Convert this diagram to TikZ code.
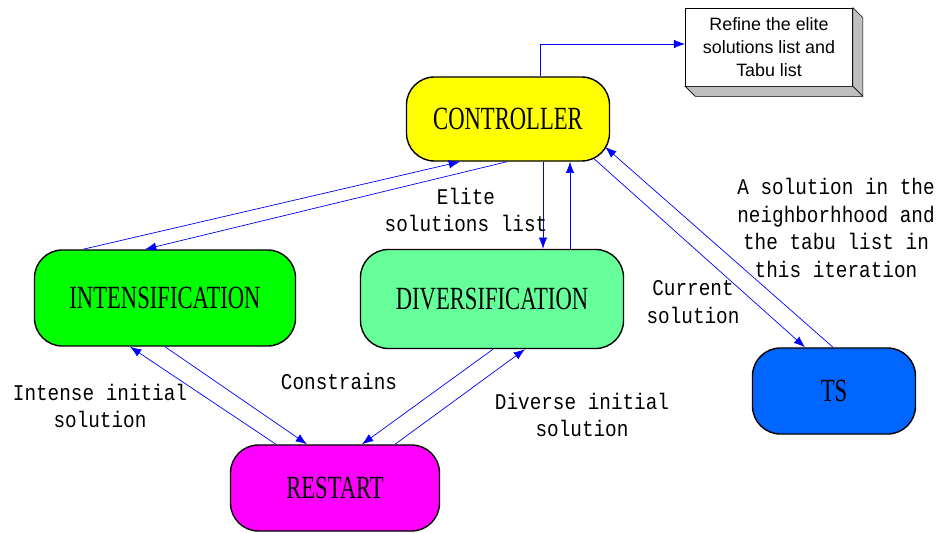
\documentclass[tikz,border=0pt]{standalone}
\usepackage{fontspec}
\setmainfont{Liberation Serif}
\newfontfamily\boxfont[FakeStretch=0.7]{Liberation Serif}
\newfontfamily\labfont[FakeStretch=0.86]{Liberation Mono}
\newfontfamily\notefont{Liberation Sans}
\definecolor{ctrlyellow}{RGB}{255,255,0}
\definecolor{intgreen}{RGB}{0,255,0}
\definecolor{divgreen}{RGB}{102,255,153}
\definecolor{rsmagenta}{RGB}{255,0,255}
\definecolor{tsblue}{RGB}{0,102,255}
\definecolor{flowblue}{RGB}{0,0,255}
\usetikzlibrary{arrows.meta,positioning,calc}

\begin{document}
\begin{tikzpicture}[x=0.025cm,y=-0.025cm,
  phase/.style={draw,line width=1pt,rounded corners=0.7cm,align=center,
    font=\boxfont\fontsize{23}{26}\selectfont,inner sep=0pt},
  flow/.style={draw=flowblue,line width=0.5pt,-{Latex[length=8pt,width=6pt]}},
  flowlabel/.style={align=center,font=\labfont\fontsize{16}{19.8}\selectfont,inner sep=0pt}
]
  \useasboundingbox (0,0) rectangle (939,532);

  \node[phase,fill=ctrlyellow,minimum width=5.075cm,minimum height=2.1cm] (ctrl) at (508,119) {CONTROLLER};
  \node[phase,fill=intgreen,minimum width=6.525cm,minimum height=2.4cm] (intens) at (165,298) {INTENSIFICATION};
  \node[phase,fill=divgreen,minimum width=6.575cm,minimum height=2.475cm] (divers) at (492,299) {DIVERSIFICATION};
  \node[phase,fill=rsmagenta,minimum width=5.225cm,minimum height=2.15cm] (restart) at (335,488) {RESTART};
  \node[phase,fill=tsblue,minimum width=4.075cm,minimum height=2.15cm] (ts) at (834,391) {TS};

  \node[draw,fill=white,line width=0.5pt,minimum width=4.175cm,minimum height=1.95cm,align=center,
    font=\notefont\fontsize{12.7}{16.3}\selectfont] (refine) at (769,47)
    {Refine the elite\\solutions list and\\Tabu list};
  \filldraw[fill=gray!50,line width=0.5pt] (refine.north east) -- ++(10,10) -- ($(refine.south east)+(10,10)$)
    -- ($(refine.south west)+(10,10)$) -- (refine.south west) -- (refine.south east) -- cycle;
  \draw[line width=0.5pt] (refine.south east) -- ++(10,10);

  \draw[flow] ($(ctrl.north)+(32,0)$) |- ($(refine.west)+(0,-3)$);
  \draw[flow] ($(intens.north)+(-82,0)$) -- ($(ctrl.south)+(-48,0)$);
  \draw[flow] ($(ctrl.south)+(-1,0)$) -- ($(intens.north)+(-20,0)$);
  \draw[flow] ($(ctrl.south)+(35,0)$) -- ($(divers.north)+(51,0)$);
  \draw[flow] ($(divers.north)+(78,0)$) -- ($(ctrl.south)+(62,0)$);
  \draw[flow] ($(ctrl.south)+(86,-3)$) -- ($(ts.north)+(-29,0)$);
  \draw[flow] ($(ts.north)+(-1,0)$) -- ($(ctrl.east)+(-5,28)$);
  \draw[flow] (intens.south) -- ($(restart.north)+(-28,0)$);
  \draw[flow] ($(restart.north)+(-59,0)$) -- ($(intens.south)+(-35,0)$);
  \draw[flow] ($(divers.south)+(1,0)$) -- ($(restart.north)+(27,0)$);
  \draw[flow] ($(restart.north)+(60,0)$) -- ($(divers.south)+(33,0)$);

  \node[flowlabel] (elite) at (466,210) {Elite\\solutions list};
  \node[flowlabel] (current) at (693,302) {Current\\solution};
  \node[flowlabel] (neigh) at (836,228) {A solution in the\\neighborhhood and\\the tabu list in\\this iteration};
  \node[flowlabel] (constr) at (339,381) {Constrains};
  \node[flowlabel] (intense) at (100,406) {Intense initial\\solution};
  \node[flowlabel] (diverse) at (582,415) {Diverse initial\\solution};
\end{tikzpicture}
\end{document}
